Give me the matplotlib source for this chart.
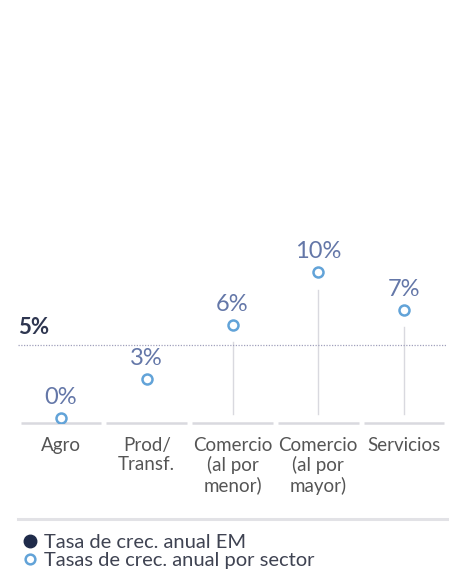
import matplotlib.pyplot as plt
from matplotlib.lines import Line2D

sectors = ['Agro', 'Prod/\nTransf.', 'Comercio\n(al por\nmenor)',
           'Comercio\n(al por\nmayor)', 'Servicios']
sector_growth = [0.0, 2.7, 6.4, 10.0, 7.4]
em_growth = 5.0

TEXT_FONT = ['Lato', 'DejaVu Sans']
POINT_BLUE = '#62a3d8'
LABEL_BLUE = '#6477a8'
NAVY = '#1f2b4a'
GRID_GREY = '#d9d9df'

W, H = 460, 569
fig = plt.figure(figsize=(W / 100, H / 100), dpi=100)
fig.patch.set_facecolor('white')

# chart area in pixels: x 18..447, y 240..423 (top-down)
left, right, top, base = 18, 447, 240, 423
ax = fig.add_axes([left / W, (H - base) / H, (right - left) / W, (base - top) / H])
ax.set_xlim(-0.5, len(sectors) - 0.5)
ax.set_ylim(-0.35, 12.2)
for side in ax.spines.values():
    side.set_visible(False)
ax.set_yticks([])

y0 = ax.get_ylim()[0]
xs = range(len(sectors))

# separate baseline segment under each column
for i in xs:
    ax.plot([i - 0.47, i + 0.47], [y0, y0], color=GRID_GREY, lw=1.8,
            solid_capstyle='butt', clip_on=False)

# stems for the sectors growing above the EM average
for i, v in zip(xs, sector_growth):
    if v > em_growth:
        ax.plot([i, i], [y0 + 0.6, v - 1.2], color=GRID_GREY, lw=1.0)

ax.axhline(em_growth, color='#a0a0bc', lw=0.9, ls=(0, (1, 1.2)))
ax.annotate(f'{em_growth:.0f}%', xy=(0, em_growth), xycoords=('axes fraction', 'data'),
            xytext=(0, 5), textcoords='offset points', ha='left', va='bottom',
            fontsize=16, fontweight='bold', color='#2e3650', family=TEXT_FONT)

ax.plot(list(xs), sector_growth, ls='none', marker='o', ms=7.2, mew=1.8,
        mec=POINT_BLUE, mfc='white', zorder=5)
for i, v in zip(xs, sector_growth):
    ax.annotate(f'{v:.0f}%', xy=(i, v), xytext=(0, 7), textcoords='offset points',
                ha='center', va='bottom', fontsize=17, color=LABEL_BLUE,
                family=TEXT_FONT)

ax.set_xticks(list(xs))
ax.set_xticklabels(sectors, fontsize=13.5, color='#555555', family=TEXT_FONT,
                   linespacing=1.15)
ax.tick_params(axis='x', length=0, pad=10)

# rule above the legend
fig.add_artist(Line2D([left / W, right / W], [(H - 519) / H] * 2,
                      color='#e2e2e6', lw=2.2))

handles = [
    Line2D([], [], ls='none', marker='o', ms=9, mfc=NAVY, mec=NAVY),
    Line2D([], [], ls='none', marker='o', ms=7, mfc='white', mec=POINT_BLUE, mew=1.8),
]
labels = ['Tasa de crec. anual EM', 'Tasas de crec. anual por sector']
fig.legend(handles, labels, loc='lower left', bbox_to_anchor=(14 / W, -10 / H),
           frameon=False, handlelength=0.6, handletextpad=0.4, labelspacing=0.02,
           borderpad=0.0, prop={'family': TEXT_FONT, 'size': 14.5},
           labelcolor='#3f4352')

fig.savefig('out.png', dpi=100, facecolor='white')
